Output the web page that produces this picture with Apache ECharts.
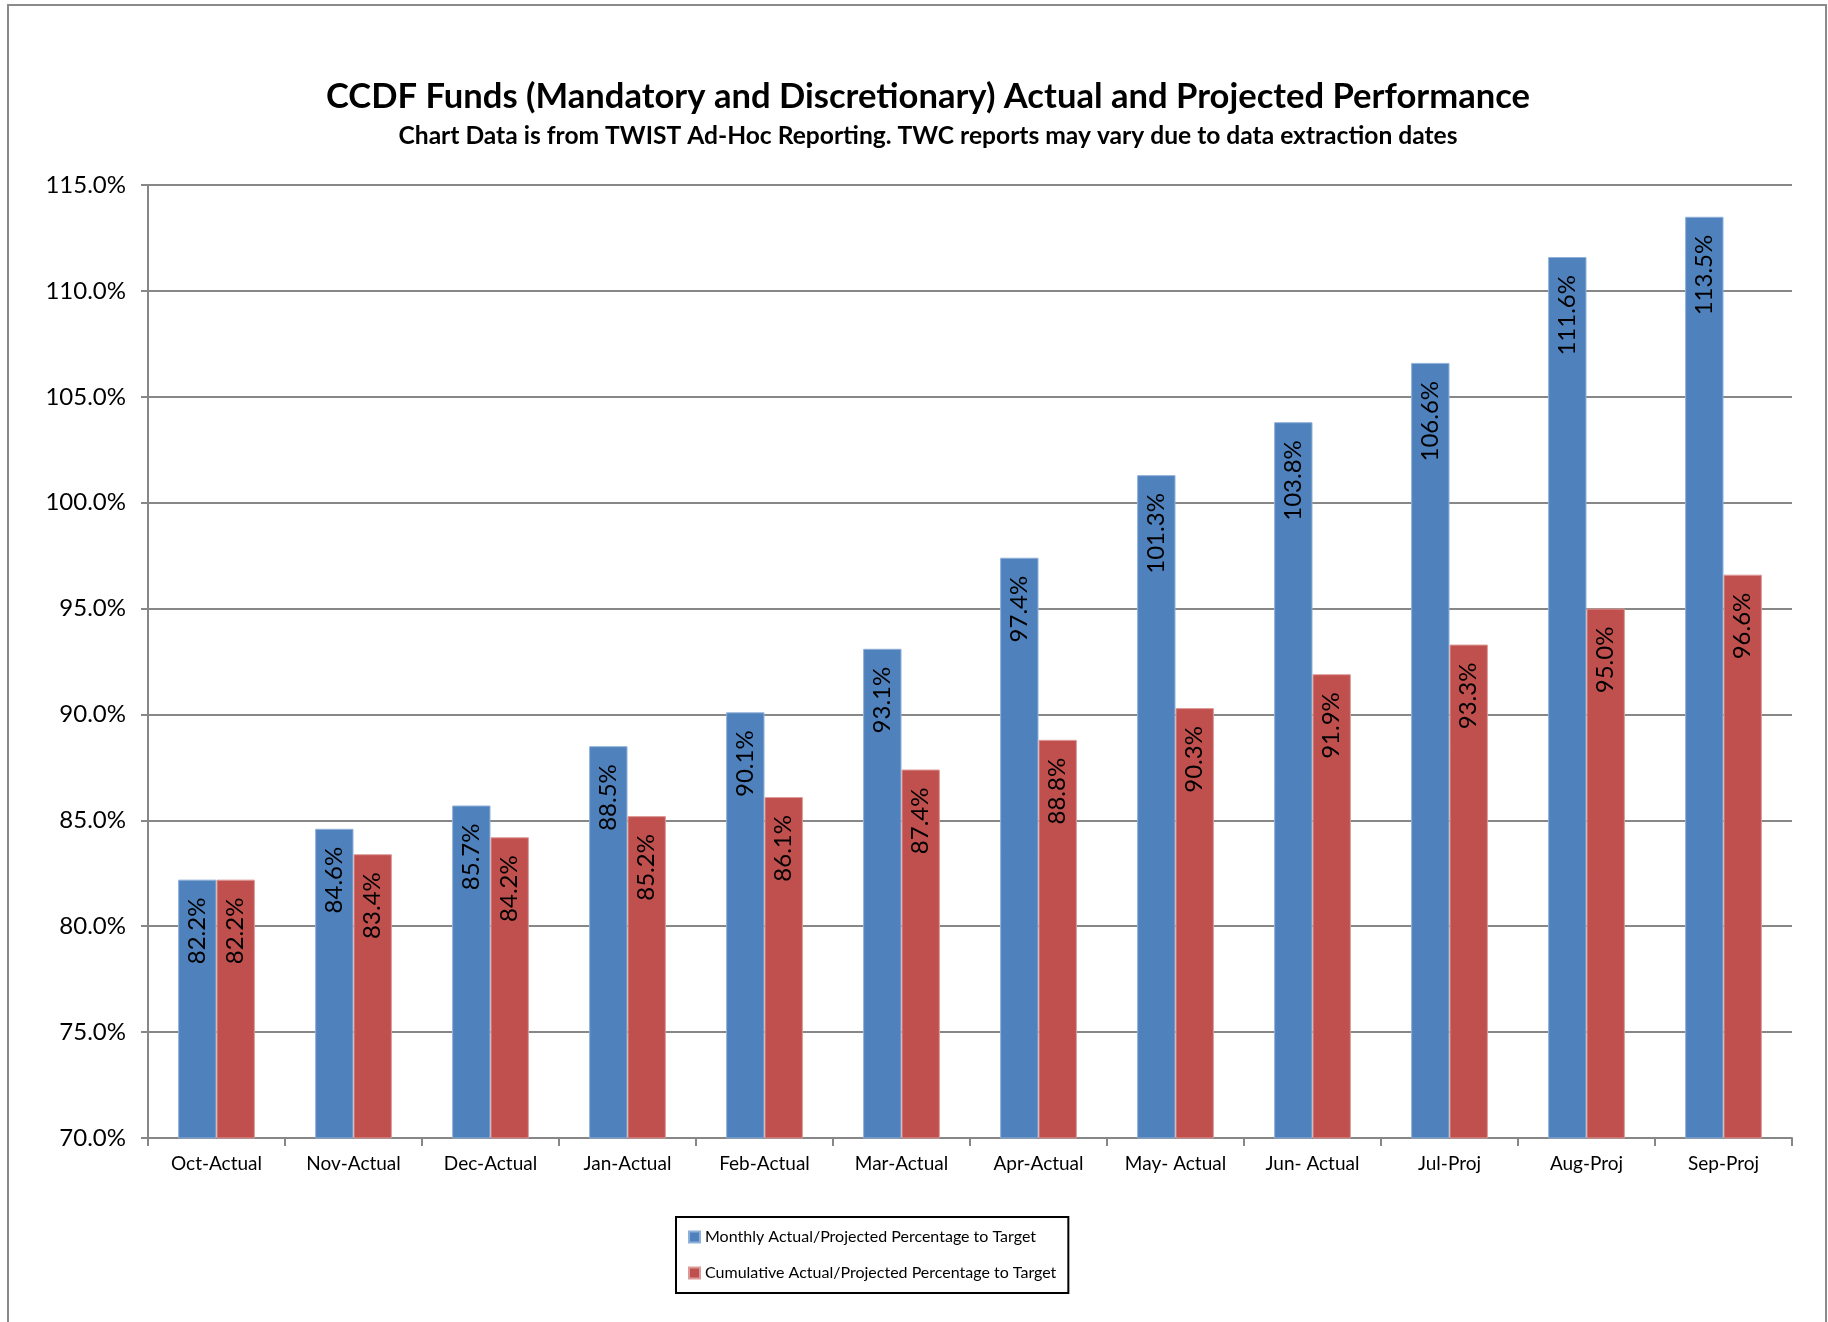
<!DOCTYPE html>
<html>
<head>
<meta charset="utf-8">
<script src="https://cdn.jsdelivr.net/npm/echarts@6/dist/echarts.min.js"></script>
<style>
  html, body { margin: 0; padding: 0; background: #ffffff; }
  #chart { width: 1828px; height: 1322px; }
</style>
</head>
<body>
<div id="chart"></div>
<script>
// Month labels along the x axis
const categories = ['Oct-Actual', 'Nov-Actual', 'Dec-Actual', 'Jan-Actual', 'Feb-Actual', 'Mar-Actual',
  'Apr-Actual', 'May- Actual', 'Jun- Actual', 'Jul-Proj', 'Aug-Proj', 'Sep-Proj'];

// Percentage to target, per month
const monthlyPct = [82.2, 84.6, 85.7, 88.5, 90.1, 93.1, 97.4, 101.3, 103.8, 106.6, 111.6, 113.5];
const cumulativePct = [82.2, 83.4, 84.2, 85.2, 86.1, 87.4, 88.8, 90.3, 91.9, 93.3, 95.0, 96.6];

const seriesNames = ['Monthly Actual/Projected Percentage to Target', 'Cumulative Actual/Projected Percentage to Target'];

const titleText = 'CCDF Funds (Mandatory and Discretionary) Actual and Projected Performance';
const subtitleText = 'Chart Data is from TWIST Ad-Hoc Reporting. TWC reports may vary due to data extraction dates';

const FONT = 'Lato, "Open Sans", sans-serif';
const GRID_GREY = '#878787';

const chart = echarts.init(document.getElementById('chart'), null, { renderer: 'canvas' });

const barLabel = {
  show: true,
  position: 'insideTop',
  distance: 18,
  rotate: 90,
  align: 'right',
  verticalAlign: 'middle',
  color: '#000',
  fontFamily: FONT,
  fontSize: 24,
  formatter: p => p.value.toFixed(1) + '%'
};

chart.setOption({
  animation: false,
  backgroundColor: '#ffffff',
  graphic: [
    {
      type: 'rect', z: -10,
      shape: { x: 8, y: 5, width: 1818, height: 1330 },
      style: { fill: '#ffffff', stroke: '#8a8a8a', lineWidth: 2 }
    },
    {
      type: 'text',
      style: { text: titleText, x: 928, y: 97, textAlign: 'center', textVerticalAlign: 'middle',
        font: 'bold 34.6px ' + FONT, fill: '#000' }
    },
    {
      type: 'text',
      style: { text: subtitleText, x: 928, y: 136, textAlign: 'center', textVerticalAlign: 'middle',
        font: 'bold 24.6px ' + FONT, fill: '#000' }
    }
  ],
  legend: {
    orient: 'vertical',
    left: 676,
    top: 1217,
    data: seriesNames,
    icon: 'rect',
    itemWidth: 11,
    itemHeight: 11,
    itemGap: 20,
    padding: [12, 12, 12, 12],
    borderColor: '#000',
    borderWidth: 2,
    textStyle: { fontFamily: FONT, fontSize: 16, color: '#000' }
  },
  grid: { left: 148, right: 36, top: 185, bottom: 184, containLabel: false },
  xAxis: {
    type: 'category',
    data: categories,
    axisLine: { show: true, lineStyle: { color: GRID_GREY, width: 2 } },
    axisTick: { show: true, length: 8, lineStyle: { color: GRID_GREY, width: 2 } },
    axisLabel: { color: '#000', fontFamily: FONT, fontSize: 19, margin: 16, interval: 0 }
  },
  yAxis: {
    type: 'value',
    min: 70,
    max: 115,
    interval: 5,
    axisLine: { show: true, lineStyle: { color: GRID_GREY, width: 2 } },
    axisTick: { show: true, length: 7, lineStyle: { color: GRID_GREY, width: 2 } },
    splitLine: { show: true, lineStyle: { color: GRID_GREY, width: 2 } },
    axisLabel: { color: '#000', fontFamily: FONT, fontSize: 24, margin: 22,
      formatter: v => v.toFixed(1) + '%' }
  },
  series: [
    {
      name: seriesNames[0],
      type: 'bar',
      data: monthlyPct,
      barGap: '0%',
      barCategoryGap: '44%',
      itemStyle: { color: '#4F81BD', borderColor: '#8fb0d8', borderWidth: 1 },
      label: barLabel
    },
    {
      name: seriesNames[1],
      type: 'bar',
      data: cumulativePct,
      barGap: '0%',
      barCategoryGap: '44%',
      itemStyle: { color: '#C0504D', borderColor: '#dc9a98', borderWidth: 1 },
      label: barLabel
    }
  ]
});
</script>
</body>
</html>
